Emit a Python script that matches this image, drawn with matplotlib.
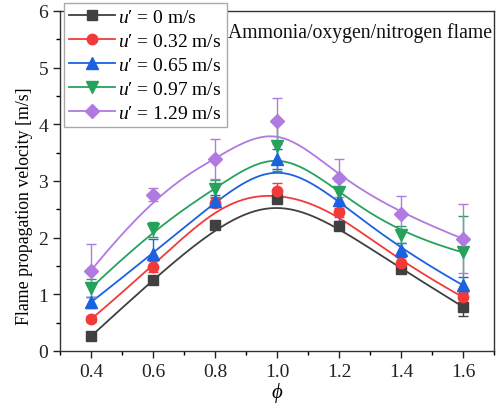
import numpy as np
import matplotlib
matplotlib.use("Agg")
import matplotlib.pyplot as plt
from matplotlib.ticker import MultipleLocator

plt.rcParams['font.family'] = ['Liberation Serif', 'DejaVu Serif']
plt.rcParams['mathtext.fontset'] = 'custom'
plt.rcParams['mathtext.rm'] = 'Liberation Serif'
plt.rcParams['mathtext.it'] = 'Liberation Serif:italic'

phi = [0.4, 0.6, 0.8, 1.0, 1.2, 1.4, 1.6]
labels = ["$u$\u2032 = 0 m/s", "$u$\u2032 = 0.32 m/s", "$u$\u2032 = 0.65 m/s",
          "$u$\u2032 = 0.97 m/s", "$u$\u2032 = 1.29 m/s"]
v0 = [0.26, 1.26, 2.22, 2.68, 2.20, 1.45, 0.78]
v032 = [0.56, 1.49, 2.62, 2.83, 2.45, 1.56, 0.95]
v065 = [0.86, 1.72, 2.65, 3.39, 2.66, 1.78, 1.16]
v097 = [1.11, 2.15, 2.86, 3.62, 2.80, 2.05, 1.74]
v129 = [1.42, 2.76, 3.39, 4.06, 3.05, 2.42, 1.98]
e0 = [0.03, 0.05, 0.05, 0.06, 0.06, 0.08, 0.17]
e032 = [0.05, 0.10, 0.08, 0.13, 0.08, 0.10, 0.10]
e065 = [0.10, 0.26, 0.10, 0.17, 0.37, 0.12, 0.14]
e097 = [0.16, 0.13, 0.15, 0.45, 0.20, 0.15, 0.65]
e129 = [0.47, 0.12, 0.36, 0.40, 0.33, 0.31, 0.61]

series = [v0, v032, v065, v097, v129]
errors = [e0, e032, e065, e097, e129]
colors = ['#404040', '#f23a3a', '#1a62e0', '#25a35c', '#b07ae0']
markers = ['s', 'o', '^', 'v', 'D']
msizes = [7, 7.5, 8, 8, 7]


def bspline(ctrl_x, ctrl_y, n=300):
    # clamped uniform cubic B-spline using data points as control points
    P = np.column_stack([ctrl_x, ctrl_y])
    k = 3
    m = len(P)
    inner = np.arange(1, m - k)
    knots = np.concatenate([np.zeros(k + 1), inner, np.full(k + 1, m - k)]).astype(float)
    ts = np.linspace(0, m - k, n)
    out = []
    for t in ts:
        N = np.zeros(len(knots) - 1)
        for i in range(len(knots) - 1):
            if knots[i] <= t < knots[i + 1] or (t == knots[-1] and knots[i] < t == knots[i + 1]):
                N[i] = 1.0
        for d in range(1, k + 1):
            Nn = np.zeros(len(knots) - d - 1)
            for i in range(len(knots) - d - 1):
                a = 0.0
                if knots[i + d] != knots[i]:
                    a = (t - knots[i]) / (knots[i + d] - knots[i]) * N[i]
                b = 0.0
                if knots[i + d + 1] != knots[i + 1]:
                    b = (knots[i + d + 1] - t) / (knots[i + d + 1] - knots[i + 1]) * N[i + 1]
                Nn[i] = a + b
            N = Nn
        out.append(N[:m] @ P)
    out = np.array(out)
    return out[:, 0], out[:, 1]


fig = plt.figure(figsize=(5.03, 4.10), dpi=100)
ax = fig.add_axes([60 / 503, 58 / 410, 434 / 503, 340 / 410])

handles = []
for y, e, c, mk, ms, lab in zip(series, errors, colors, markers, msizes, labels):
    sx, sy = bspline(phi, y)
    ax.plot(sx, sy, color=c, lw=1.3, zorder=2)
    ax.errorbar(phi, y, yerr=e, fmt='none', ecolor=c, elinewidth=1.0, capsize=3.5, capthick=1.0, zorder=3)
    ax.plot(phi, y, linestyle='none', marker=mk, ms=ms, color=c, mec=c, zorder=4)
    h, = ax.plot([], [], color=c, lw=1.3, marker=mk, ms=ms, mec=c, label=lab)
    handles.append(h)

ax.set_xlim(0.3, 1.7)
ax.set_ylim(0, 6)
ax.xaxis.set_minor_locator(MultipleLocator(0.1))
ax.yaxis.set_major_locator(MultipleLocator(1))
ax.yaxis.set_minor_locator(MultipleLocator(0.5))
ax.set_xticks(phi)
ax.set_xticklabels(['0.4', '0.6', '0.8', '1.0', '1.2', '1.4', '1.6'])
ax.tick_params(which='major', direction='out', length=5, width=1, labelsize=14, colors='#222222')
ax.tick_params(which='minor', direction='out', length=3, width=1)
for s in ax.spines.values():
    s.set_linewidth(1.0)
    s.set_color('#333333')

ax.set_xlabel(r'$\phi$', fontsize=15, labelpad=0)
ax.set_ylabel('Flame propagation velocity [m/s]', fontsize=12.8)
ax.yaxis.set_label_coords(-0.062, 0.43)

ax.text(0.995, 0.938, 'Ammonia/oxygen/nitrogen flame', transform=ax.transAxes,
        ha='right', va='center', fontsize=14.2, color='#111111')

leg = ax.legend(handles=handles, loc='upper left', bbox_to_anchor=(0.0, 1.034),
                fontsize=14, frameon=True, fancybox=False, framealpha=1,
                edgecolor='#aaaaaa', handlelength=2.4, handletextpad=0.15,
                labelspacing=0.33, borderpad=0.25, borderaxespad=0.2)
leg.get_frame().set_linewidth(1.0)
leg.set_zorder(10)

fig.savefig('out.png', dpi=100)
